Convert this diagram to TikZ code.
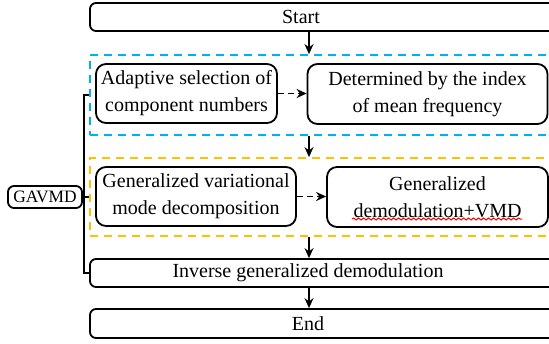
\documentclass[tikz,border=0pt]{standalone}
\usepackage{fontspec}
\setmainfont{Liberation Serif}
\usetikzlibrary{arrows.meta,decorations.pathmorphing}

\definecolor{blueline}{RGB}{0,176,240}
\definecolor{yellowline}{RGB}{255,192,0}

\begin{document}
\begin{tikzpicture}[x=0.5pt,y=-0.5pt,
    font=\rmfamily\fontsize{10}{13.5}\selectfont,
    line width=0.9pt,
    bar/.style={draw,rounded corners=3pt,minimum width=255pt,inner sep=0pt},
    stepbox/.style={draw,rounded corners=5pt,align=center,inner sep=0pt},
    group/.style={draw,dash pattern=on 4pt off 3pt,minimum width=255pt,inner sep=0pt},
    flow/.style={-{Stealth[length=5pt,width=4.5pt]}},
    hop/.style={flow,dash pattern=on 3pt off 2pt}]

  \clip (0,0) rectangle (549,343);

  \node[bar, minimum height=14pt, label={[xshift=-22pt]center:Start}] (start) at (345,17) {};

  % first stage
  \node[group, draw=blueline, minimum height=40pt] (adapt) at (345,95) {};
  \node[stepbox, minimum width=90.5pt, minimum height=29.5pt] (sel) at (186.5,93.5) {Adaptive selection of\\component numbers};
  \node[stepbox, minimum width=120pt, minimum height=30pt] (idx) at (427.5,94) {Determined by the index\\of mean frequency};

  % second stage
  \node[group, draw=yellowline, minimum height=39pt] (decomp) at (345,197) {};
  \node[stepbox, minimum width=100pt, minimum height=29.5pt] (gvmd) at (196,196.5) {Generalized variational\\mode decomposition};
  \node[stepbox, minimum width=110.5pt, minimum height=30pt] (gdem) at (437.5,197) {Generalized\\demodulation+VMD};

  \node[bar, minimum height=14pt, label={[xshift=-18.5pt]center:Inverse generalized demodulation}] (inv) at (345,273) {};
  \node[bar, minimum height=14.5pt, label={[xshift=-18.5pt]center:End}] (end) at (345,323.5) {};

  \node[stepbox, rounded corners=3pt, minimum width=37pt, minimum height=11pt,
        font=\rmfamily\fontsize{8.7}{10}\selectfont] (gavmd) at (45,197) {GAVMD};

  \coordinate (axis) at (309,0);
  \coordinate (spine) at (84,0);

  \draw[flow] (start.south -| axis) -- (adapt.north -| axis);
  \draw[flow] (adapt.south -| axis) -- (decomp.north -| axis);
  \draw[flow] (decomp.south -| axis) -- (inv.north -| axis);
  \draw[flow] (inv.south -| axis) -- (end.north -| axis);

  \draw[hop] (sel.east) -- (sel.east -| idx.west);
  \draw[hop] (gvmd.east) -- (gvmd.east -| gdem.west);

  % bracket of the GAVMD steps
  \draw (adapt.west) -- (adapt.west -| spine) -- (inv.west -| spine) -- (inv.west);
  \draw (gavmd.east) -- (decomp.west);

  \draw[red, line width=0.5pt, decorate, decoration={snake, amplitude=0.5pt, segment length=2.5pt}]
    (352,219) -- (522,219);
\end{tikzpicture}
\end{document}
